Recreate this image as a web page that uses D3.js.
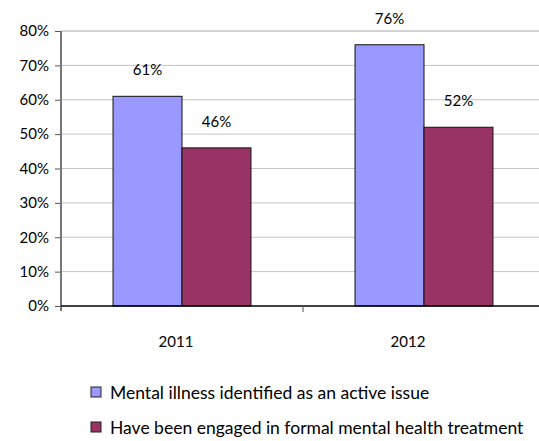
<!DOCTYPE html>
<html>
<head>
<meta charset="utf-8">
<script src="https://cdn.jsdelivr.net/npm/d3@7"></script>
<style>
  body { margin: 0; background: #fff; }
  text { font-family: Lato, "Open Sans", sans-serif; fill: #000; }
</style>
</head>
<body>
<div id="chart"></div>
<script>
const years = ["2011", "2012"];
const seriesNames = ["Mental illness identified as an active issue", "Have been engaged in formal mental health treatment"];
const identified = [61, 76];
const treatment = [46, 52];
const yTicks = [0, 10, 20, 30, 40, 50, 60, 70, 80];

const colors = ["#9999ff", "#993366"];
const width = 539, height = 441;
const margin = { top: 31, right: -6, bottom: 135, left: 61 };

const svg = d3.select("#chart").append("svg")
    .attr("width", width)
    .attr("height", height);

const x = d3.scaleBand()
    .domain(years)
    .range([margin.left, width - margin.right]);

const y = d3.scaleLinear()
    .domain([0, 80])
    .range([height - margin.bottom, margin.top]);

const groupW = x.bandwidth() * 0.57;
const xs = d3.scaleBand()
    .domain([0, 1])
    .range([0, groupW]);

// gridlines
svg.append("g")
    .selectAll("line")
    .data(yTicks.filter(d => d > 0))
    .enter().append("line")
    .attr("x1", margin.left)
    .attr("x2", width)
    .attr("y1", d => y(d))
    .attr("y2", d => y(d))
    .attr("stroke", d => d === 80 ? "#a8a8a8" : "#c4c4c4")
    .attr("stroke-width", 1);

// y axis
const yAxis = svg.append("g")
    .attr("transform", `translate(${margin.left},0)`)
    .call(d3.axisLeft(y).tickValues(yTicks).tickSize(6).tickPadding(6).tickFormat(d => d + "%"));
yAxis.select(".domain").remove();
yAxis.selectAll(".tick line").attr("stroke", "#555");
yAxis.selectAll("text").style("font-size", "15px").attr("fill", "#000");
svg.append("line")
    .attr("x1", margin.left).attr("x2", margin.left)
    .attr("y1", y(80)).attr("y2", y(0) + 5)
    .attr("stroke", "#777").attr("stroke-width", 2);

// bars
const data = [];
years.forEach((yr, i) => {
    data.push({ year: yr, s: 0, v: identified[i] });
    data.push({ year: yr, s: 1, v: treatment[i] });
});

svg.append("g")
    .selectAll("rect")
    .data(data)
    .enter().append("rect")
    .attr("x", d => x(d.year) + (x.bandwidth() - groupW) / 2 + xs(d.s))
    .attr("y", d => y(d.v))
    .attr("width", xs.bandwidth())
    .attr("height", d => y(0) - y(d.v))
    .attr("fill", d => colors[d.s])
    .attr("stroke", "#111")
    .attr("stroke-width", 1);

svg.append("g")
    .selectAll("text")
    .data(data)
    .enter().append("text")
    .attr("x", d => x(d.year) + (x.bandwidth() - groupW) / 2 + xs(d.s) + xs.bandwidth() / 2)
    .attr("y", d => y(d.v) - 21)
    .attr("text-anchor", "middle")
    .style("font-size", "15px")
    .text(d => d.v + "%");

// x axis
svg.append("line")
    .attr("x1", margin.left).attr("x2", width)
    .attr("y1", y(0)).attr("y2", y(0))
    .attr("stroke", "#000").attr("stroke-width", 1.5);
svg.append("g")
    .selectAll("line")
    .data(years.slice(1))
    .enter().append("line")
    .attr("x1", d => x(d)).attr("x2", d => x(d))
    .attr("y1", y(0)).attr("y2", y(0) + 6)
    .attr("stroke", "#555");

svg.append("g")
    .selectAll("text")
    .data(years)
    .enter().append("text")
    .attr("x", (d, i) => x(d) + x.bandwidth() / 2 - (i === 0 ? 6 : 16))
    .attr("y", y(0) + 41)
    .attr("text-anchor", "middle")
    .style("font-size", "15px")
    .text(d => d);

// legend
const legend = svg.append("g")
    .attr("transform", "translate(91,387)");
const items = legend.selectAll("g")
    .data(seriesNames)
    .enter().append("g")
    .attr("transform", (d, i) => `translate(0,${i * 35})`);
items.append("rect")
    .attr("width", 10).attr("height", 10)
    .attr("fill", (d, i) => colors[i])
    .attr("stroke", "#222");
items.append("text")
    .attr("x", 19)
    .attr("y", 12)
    .style("font-size", "17.5px")
    .text(d => d);
</script>
</body>
</html>
